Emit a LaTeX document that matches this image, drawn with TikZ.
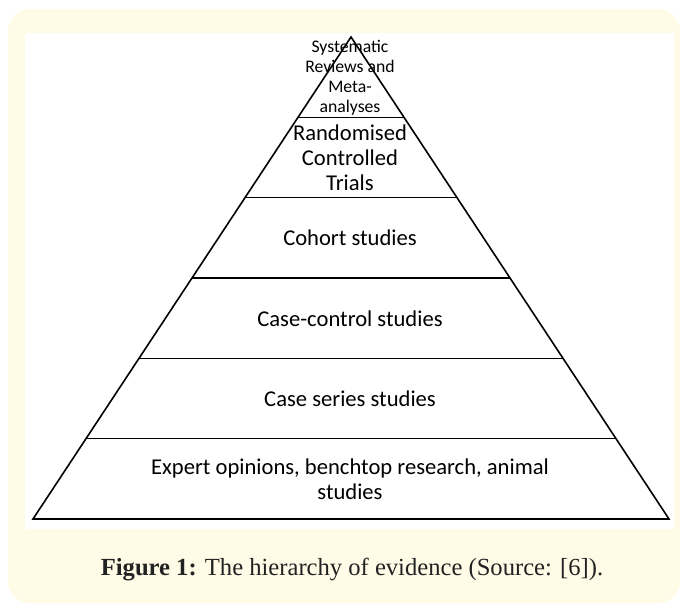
\documentclass[tikz,border=0pt]{standalone}
\usepackage{fontspec}
\setmainfont{Liberation Serif}
\newfontfamily\tierfont{Carlito}
\usetikzlibrary{calc}
\definecolor{panelcream}{RGB}{255,251,231}
\definecolor{captiongray}{RGB}{34,34,34}

\begin{document}
\begin{tikzpicture}
	[x=1pt,y=-1pt,
	panel/.style={fill=panelcream,rounded corners=22pt},
	sheet/.style={fill=white},
	tier/.style={draw,line width=1.6pt},
	tiertext/.style={align=center,inner sep=0pt,font=\tierfont\fontsize{22.6}{25}\selectfont},
	toptext/.style={align=center,inner sep=0pt,font=\tierfont\fontsize{17.7}{20}\selectfont},
	figcaption/.style={inner sep=0pt,anchor=base,text=captiongray,font=\fontsize{24.6}{30}\selectfont}]
	\useasboundingbox (0,0) rectangle (680,605);
	\fill[panel] (8,9) rectangle (680,603);
	\fill[sheet] (25,33) rectangle (674,529);
	% pyramid outline and tiers
	\coordinate (apex) at (351,37);
	\coordinate (baseL) at (33,519);
	\coordinate (baseR) at (669,519);
	\draw[tier] (apex) -- (baseR) -- (baseL) -- cycle;
	\foreach \k in {1,...,5} {
		\coordinate (l\k) at ($(apex)!\k/6!(baseL)$);
		\coordinate (r\k) at ($(apex)!\k/6!(baseR)$);
		\draw[tier] (l\k) -- (r\k);
	}
	\node[toptext] (sysrev) at (350,78) {Systematic\\Reviews and\\Meta-\\analyses};
	\node[tiertext] (rct) at (350,158) {Randomised\\Controlled\\Trials};
	\node[tiertext] (cohort) at (350,238) {Cohort studies};
	\node[tiertext] (casectrl) at (350,319) {Case-control studies};
	\node[tiertext] (caseser) at (350,399) {Case series studies};
	\node[tiertext] (expert) at (350,479.5) {Expert opinions, benchtop research, animal\\studies};
	\node[figcaption] (cap) at (352,575) {\textbf{Figure 1:} The hierarchy of evidence (Source: [6]).};
\end{tikzpicture}
\end{document}
